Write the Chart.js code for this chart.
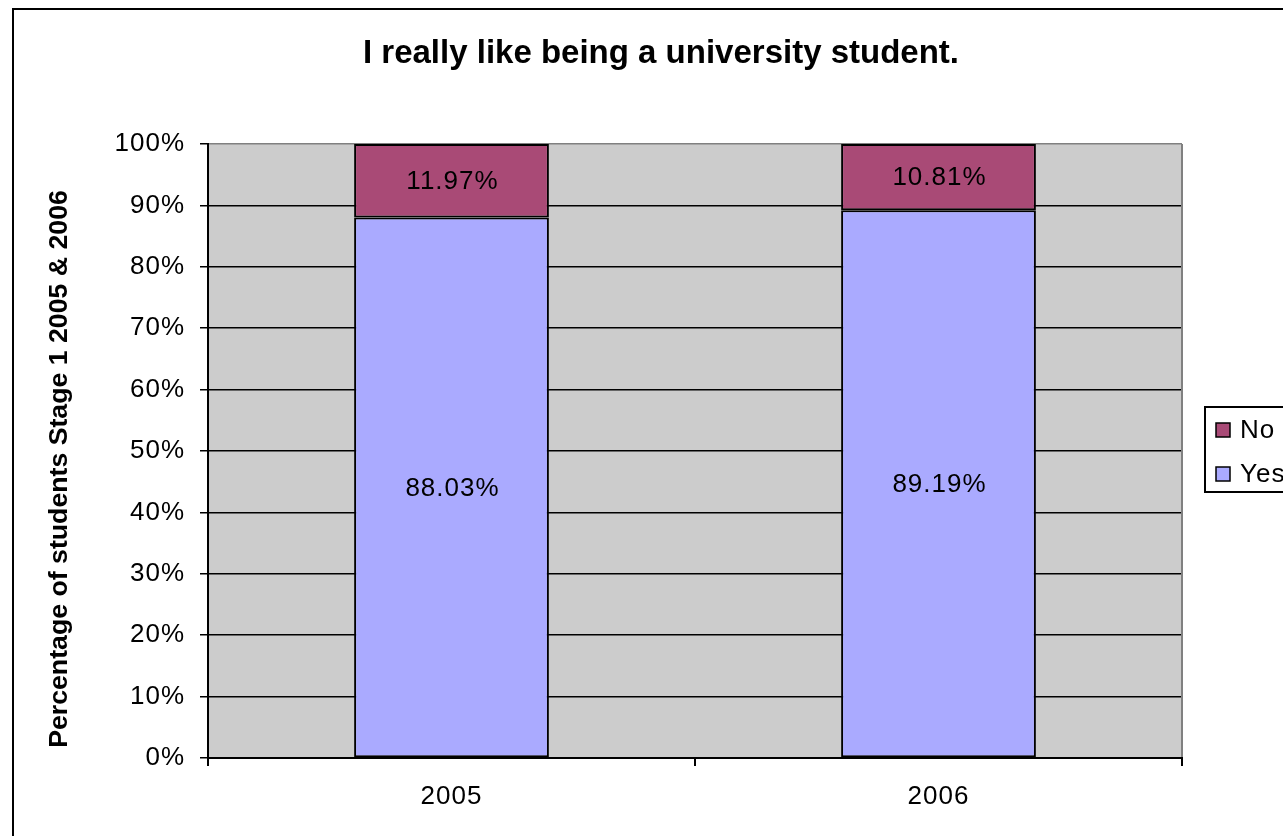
<!DOCTYPE html>
<html>
<head>
<meta charset="utf-8">
<script src="https://cdn.jsdelivr.net/npm/chart.js@4.4.1/dist/chart.umd.min.js"></script>
<style>
  html, body { margin: 0; padding: 0; background: #fff; }
  #wrap { position: relative; width: 1283px; height: 836px; }
</style>
</head>
<body>
<div id="wrap"><canvas id="c" width="1283" height="836"></canvas></div>
<script>
const chartTitle = 'I really like being a university student.';
const yAxisTitle = 'Percentage of students Stage 1 2005 & 2006';
const categories = ['2005', '2006'];
const yesValues = [88.03, 89.19];
const noValues = [11.97, 10.81];
const seriesNames = ['Yes', 'No'];
const yTicks = [0, 10, 20, 30, 40, 50, 60, 70, 80, 90, 100];

const COL_YES = '#AAAAFF';
const COL_NO = '#A94A76';
const COL_PLOT = '#CCCCCC';
const FONT = '"Liberation Sans", Arial, sans-serif';

const decor = {
  id: 'decor',
  beforeDraw(chart) {
    const ctx = chart.ctx;
    const a = chart.chartArea;
    ctx.save();
    ctx.fillStyle = '#fff';
    ctx.fillRect(0, 0, chart.width, chart.height);
    ctx.fillStyle = COL_PLOT;
    ctx.fillRect(a.left, a.top, a.right - a.left, a.bottom - a.top);
    ctx.restore();
    ctx.letterSpacing = '1px';
  },
  afterDatasetsDraw(chart) {
    const ctx = chart.ctx;
    ctx.save();
    ctx.letterSpacing = '1px';
    ctx.font = '26px ' + FONT;
    ctx.fillStyle = '#000';
    ctx.textAlign = 'center';
    ctx.textBaseline = 'middle';
    chart.data.datasets.forEach((ds, i) => {
      const meta = chart.getDatasetMeta(i);
      meta.data.forEach((el, j) => {
        const p = el.getProps(['x', 'y', 'base'], true);
        ctx.fillText(ds.data[j].toFixed(2) + '%', p.x + 1, (p.y + p.base) / 2 + 1);
      });
    });
    ctx.restore();
  },
  afterDraw(chart) {
    const ctx = chart.ctx;
    const a = chart.chartArea;
    ctx.save();
    ctx.letterSpacing = '0px';
    // plot area right border (gray)
    ctx.strokeStyle = '#808080';
    ctx.lineWidth = 2;
    ctx.beginPath();
    ctx.moveTo(a.right, a.top);
    ctx.lineTo(a.right, a.bottom - 1);
    ctx.stroke();
    // outer frame
    ctx.strokeStyle = '#000';
    ctx.lineWidth = 2;
    ctx.strokeRect(13, 9, 1400, 1000);
    // title
    ctx.fillStyle = '#000';
    ctx.font = 'bold 33px ' + FONT;
    ctx.textAlign = 'center';
    ctx.textBaseline = 'middle';
    ctx.fillText(chartTitle, 661, 54);
    // y axis title
    ctx.save();
    ctx.translate(60, 469);
    ctx.rotate(-Math.PI / 2);
    ctx.font = 'bold 26.7px ' + FONT;
    ctx.fillText(yAxisTitle, 0, 0);
    ctx.restore();
    // legend
    ctx.lineWidth = 2;
    ctx.strokeStyle = '#000';
    ctx.fillStyle = '#fff';
    ctx.fillRect(1205, 407, 120, 85);
    ctx.strokeRect(1205, 407, 120, 85);
    const items = [
      { name: seriesNames[1], color: COL_NO, y: 430 },
      { name: seriesNames[0], color: COL_YES, y: 474 }
    ];
    ctx.letterSpacing = '1px';
    ctx.font = '26px ' + FONT;
    ctx.textAlign = 'left';
    items.forEach(it => {
      ctx.fillStyle = it.color;
      ctx.fillRect(1216, it.y - 7, 14, 14);
      ctx.lineWidth = 1.5;
      ctx.strokeRect(1216, it.y - 7, 14, 14);
      ctx.fillStyle = '#000';
      ctx.fillText(it.name, 1240, it.y + 1);
    });
    ctx.restore();
  }
};

new Chart(document.getElementById('c'), {
  type: 'bar',
  data: {
    labels: categories,
    datasets: [
      { label: seriesNames[0], data: yesValues, backgroundColor: COL_YES, borderColor: '#000', borderWidth: 2, borderSkipped: false },
      { label: seriesNames[1], data: noValues, backgroundColor: COL_NO, borderColor: '#000', borderWidth: 2, borderSkipped: false }
    ]
  },
  options: {
    responsive: false,
    animation: false,
    devicePixelRatio: 1,
    layout: { padding: { top: 144, right: 101, left: 0, bottom: 0 } },
    plugins: { legend: { display: false }, title: { display: false }, tooltip: { enabled: false } },
    datasets: { bar: { barPercentage: 0.4, categoryPercentage: 1 } },
    scales: {
      x: {
        stacked: true,
        offset: true,
        grid: { offset: true, drawOnChartArea: false, drawTicks: true, tickLength: 8, color: '#000', lineWidth: 2 },
        border: { display: true, color: '#000', width: 2 },
        ticks: { color: '#000', font: { family: FONT, size: 26 }, padding: 15, maxRotation: 0 },
        afterFit(s) { s.height = 78; }
      },
      y: {
        stacked: true,
        min: 0, max: 100,
        afterBuildTicks(s) { s.ticks = yTicks.map(v => ({ value: v })); },
        grid: {
          color: ctx => (ctx.tick && ctx.tick.value === 100) ? '#808080' : '#000',
          lineWidth: 1.5,
          tickColor: '#000',
          tickLength: 8,
          drawTicks: true
        },
        border: { display: true, color: '#000', width: 2 },
        ticks: { color: '#000', font: { family: FONT, size: 26 }, padding: 15, callback: v => v + '%' },
        afterFit(s) { s.width = 208; }
      }
    }
  },
  plugins: [decor]
});
</script>
</body>
</html>
